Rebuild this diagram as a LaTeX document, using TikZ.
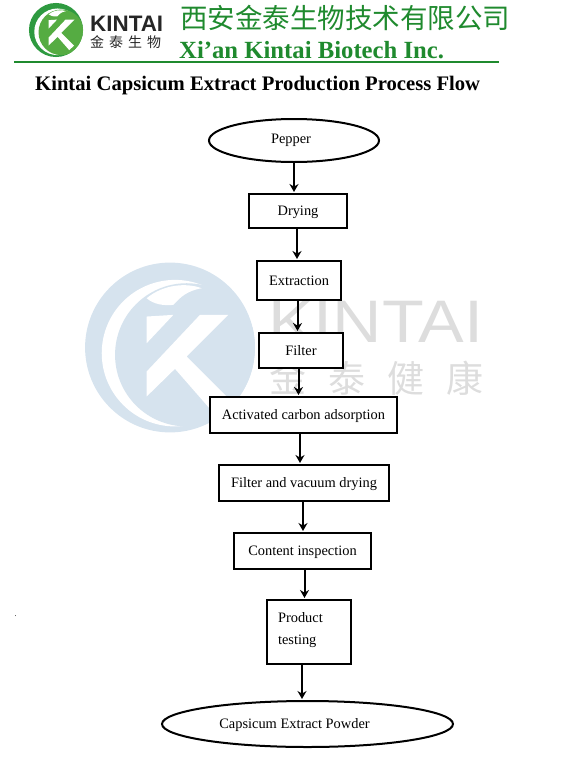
\documentclass[tikz,border=0pt]{standalone}
\usepackage{fontspec}
\usepackage{xcolor}
\setmainfont{Liberation Serif}
\setsansfont{Liberation Sans}
\newfontfamily\cjk{Noto Sans CJK SC}
\usetikzlibrary{shapes,positioning,arrows.meta}

\definecolor{kintaigreen}{HTML}{1F8A2E}
\definecolor{markblue}{HTML}{D6E3EE}
\definecolor{markgray}{HTML}{DDDDDD}
\definecolor{logoring}{HTML}{2E9A40}
\definecolor{logodisc}{HTML}{55AC42}

\tikzset{
  pics/kintailogo/.style 2 args={code={
    \fill[#1] (0,0) circle (255);
    \begin{scope}
      \clip (0,0) circle (255);
      \fill[white] (15,17) circle (220);
      \fill[#2] (50,22) circle (215);
    \end{scope}
    % leaf and the K
    \fill[white] (-70,-148) .. controls (-20,-190) and (50,-195) .. (95,-178) .. controls (50,-170) and (30,-150) .. (10,-128) .. controls (-20,-125) and (-50,-130) .. (-70,-148) -- cycle;
    \fill[white] (-70,-93) -- (10,-98) -- (-70,-13) -- cycle;
    \fill[white] (90,-98) -- (175,-98) -- (50,27) -- (170,147) -- (125,190) -- (15,64) -- (-70,147) -- (-70,72) -- cycle;
  }}
}

\begin{document}
\begin{tikzpicture}[
    x=1pt, y=-1pt,
    font=\fontsize{14.4}{17}\selectfont,
    stepbox/.style={rectangle, draw, line width=2pt, fill=white, outer sep=0pt, inner sep=0pt},
    oneline/.style={stepbox, text height=10pt, text depth=1pt},
    endpoint/.style={ellipse, draw, line width=2pt, fill=white, outer sep=0pt, inner sep=0pt},
    edge/.style={-{Stealth[length=8pt,width=9pt]}, line width=2pt, shorten >=2pt, shorten <=1pt},
    brand/.style={text=kintaigreen, inner sep=0pt, anchor=west},
]
\useasboundingbox (0,0) rectangle (575,763);

% watermark
\pic[scale=0.333] at (170,347.5) {kintailogo={markblue}{markblue}};
\node[anchor=west, inner sep=0pt, text=markgray, xscale=1.14, font=\sffamily\fontsize{60}{60}\selectfont] (markname) at (268,322) {KINTAI};
\node[anchor=west, inner sep=0pt, text=markgray, font=\cjk\fontsize{37}{37}\selectfont] (markcn) at (269,378) {金\hspace{22pt}泰\hspace{22pt}健\hspace{22pt}康};

% header
\pic[scale=0.106] at (56,30) {kintailogo={logoring}{logodisc}};
\node[anchor=west, inner sep=0pt, text=black!85, font=\sffamily\bfseries\fontsize{22.4}{22.4}\selectfont] (logoname) at (90,23.5) {KINTAI};
\node[anchor=west, inner sep=0pt, text=black!85, font=\cjk\fontsize{14}{14}\selectfont] (logocn) at (90,42) {金\hspace{5pt}泰\hspace{5pt}生\hspace{5pt}物};
\node[brand, font=\cjk\fontsize{27.5}{27.5}\selectfont] (company) at (180,18) {西安金泰生物技术有限公司};
\node[brand, font=\bfseries\fontsize{24.7}{24.7}\selectfont] (companyen) at (179,50) {Xi'an Kintai Biotech Inc.};
\coordinate (rulel) at (14,62);
\coordinate (ruler) at (499,62);
\draw[kintaigreen, line width=2.2pt] (rulel) -- (ruler);
\node[anchor=west, inner sep=0pt, font=\bfseries\fontsize{20.65}{20.65}\selectfont] (title) at (35,86) {Kintai Capsicum Extract Production Process Flow};
\node[inner sep=0pt, font=\fontsize{8}{8}\selectfont] (dot) at (15.5,616) {.};

% flow
\node[endpoint, minimum width=170pt, minimum height=43pt, label={[xshift=-3pt]center:Pepper}] (pepper) at (294,140.5) {};
\node[oneline, below=32pt of pepper, xshift=4pt, minimum width=98pt, minimum height=34pt] (drying) {Drying};
\node[oneline, below=33pt of drying, xshift=1pt, minimum width=83.5pt, minimum height=39pt] (extraction) {Extraction};
\node[oneline, below=33pt of extraction, xshift=2pt, minimum width=84pt, minimum height=35pt] (filter) {Filter};
\node[oneline, below=29pt of filter, xshift=2.5pt, minimum width=187pt, minimum height=36pt] (carbon) {Activated carbon adsorption};
\node[oneline, below=32pt of carbon, xshift=0.5pt, minimum width=170pt, minimum height=36pt] (vacuum) {Filter and vacuum drying};
\node[oneline, below=32pt of vacuum, xshift=-1.5pt, minimum width=137pt, minimum height=36pt] (inspection) {Content inspection};
\node[stepbox, below=31pt of inspection, xshift=6.5pt, minimum height=64pt, text width=62pt, inner xsep=11pt, align=left, font=\fontsize{14.4}{22}\selectfont] (testing) {\raisebox{-1pt}[0pt][0pt]{Product}\\\raisebox{-1pt}[0pt][0pt]{testing}};
\node[endpoint, below=37pt of testing, xshift=-1.5pt, minimum width=291pt, minimum height=46pt, label={[xshift=-13pt,yshift=-1pt]center:Capsicum Extract Powder}] (powder) {};

\draw[edge] (pepper.south) -- ([xshift=-4pt]drying.north);
\draw[edge] ([xshift=-1pt]drying.south) -- ([xshift=-2pt]extraction.north);
\draw[edge] ([xshift=-1.5pt]extraction.south) -- ([xshift=-3.5pt]filter.north);
\draw[edge] ([xshift=-2.5pt]filter.south) -- ([xshift=-5pt]carbon.north);
\draw[edge] ([xshift=-3.5pt]carbon.south) -- ([xshift=-4pt]vacuum.north);
\draw[edge] ([xshift=-1pt]vacuum.south) -- ([xshift=0.5pt]inspection.north);
\draw[edge] ([xshift=2pt]inspection.south) -- ([xshift=-4.5pt]testing.north);
\draw[edge] ([xshift=-7pt]testing.south) -- ([xshift=-5.5pt]powder.north);

\end{tikzpicture}
\end{document}
